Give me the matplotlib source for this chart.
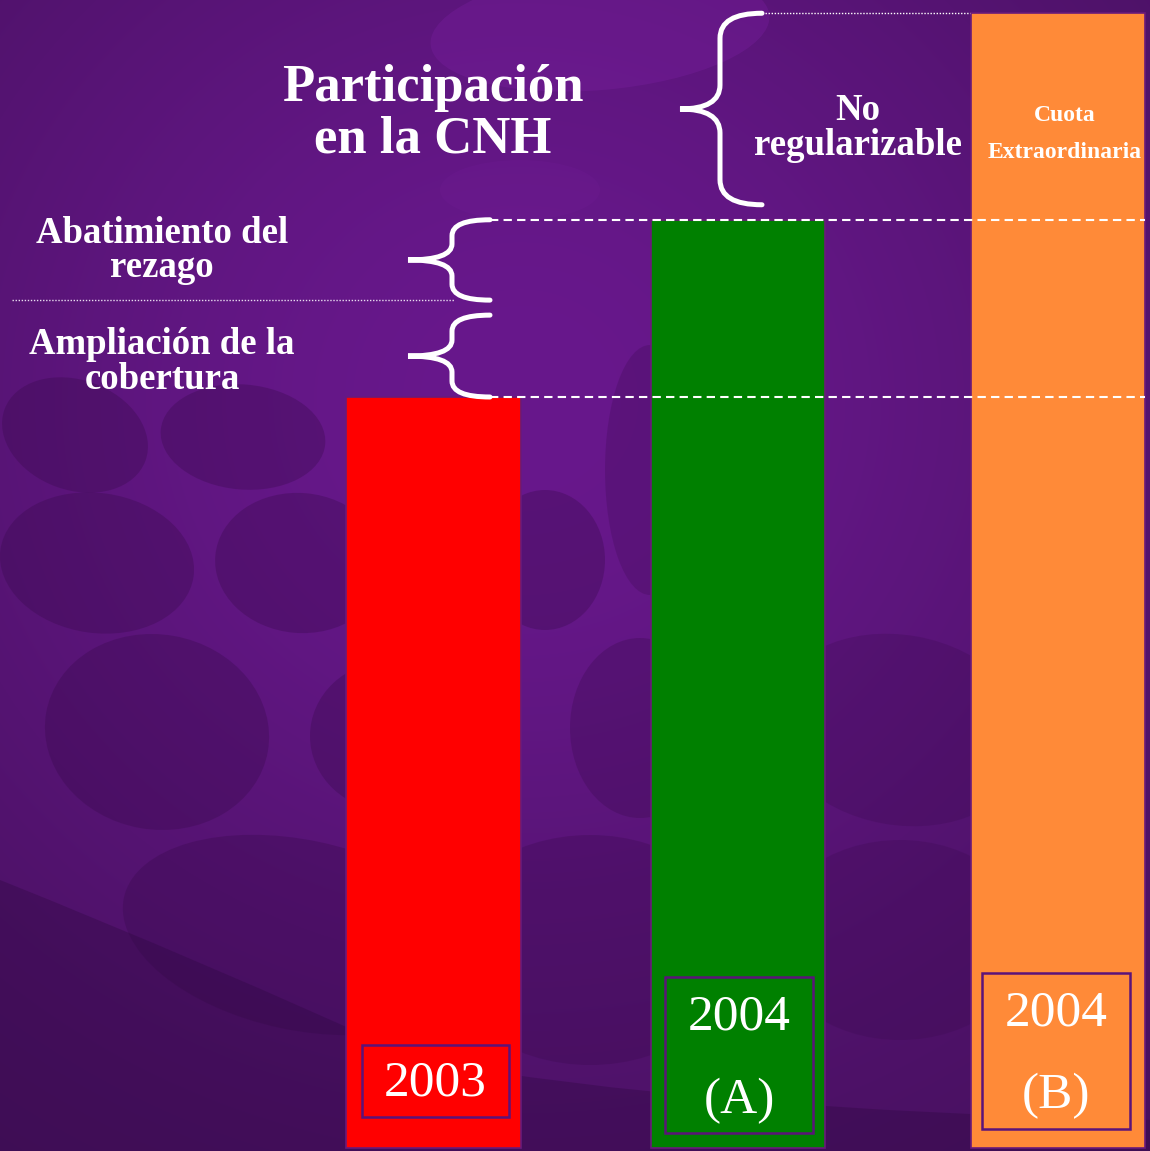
import numpy as np
import matplotlib.pyplot as plt
from matplotlib.patches import Ellipse, Rectangle, PathPatch
from matplotlib.path import Path

# ---- datos (alturas relativas, 2003 = 100) ----
labels = ["2003", "2004\n(A)", "2004\n(B)"]
participacion = [100.0, 123.6, 151.1]
corte_rezago = 112.9          # separa "Ampliación" de "Abatimiento"
bar_colors = ["#ff0000", "#008000", "#ff8a38"]

# ---- layout (pixeles) ----
W, H = 1150, 1151
BASE_PX = 1148          # pixel de la base de las barras
PX_PER_UNIT = 7.51
centers = [433.5, 738, 1057.5]
widths = [175, 174, 174]
SERIF = "Liberation Serif"


def py(p):
    # pixel vertical -> unidades de datos
    return (BASE_PX - p) / PX_PER_UNIT


fig = plt.figure(figsize=(W / 100, H / 100), dpi=100)

# ---------- fondo ----------
bg = fig.add_axes([0, 0, 1, 1])
bg.set_xlim(0, W)
bg.set_ylim(H, 0)
bg.axis("off")

yy, xx = np.mgrid[0:H, 0:W]
t = np.exp(-(((xx - 520) / 720.0) ** 2 + ((yy - 400) / 680.0) ** 2))
dark = np.array([0x42, 0x0f, 0x58]) / 255
light = np.array([0x68, 0x18, 0x8c]) / 255
img = dark + (light - dark) * t[..., None]
bg.imshow(img, extent=[0, W, H, 0], aspect="auto", zorder=0)

# manchas del fondo (x, y, ancho, alto, angulo, color, alpha)
blobs = [
    (600, 30, 340, 120, -5, "#7a1fa0", 0.35),
    (520, 190, 160, 60, 0, "#7a1fa0", 0.15),
    (75, 435, 150, 110, 20, "#3a0a4e", 0.35),
    (243, 437, 165, 105, 5, "#3a0a4e", 0.35),
    (97, 563, 195, 140, 8, "#3a0a4e", 0.35),
    (300, 563, 170, 140, 5, "#3a0a4e", 0.35),
    (545, 560, 120, 140, 0, "#3a0a4e", 0.35),
    (157, 732, 225, 195, 10, "#3a0a4e", 0.35),
    (390, 736, 160, 150, 0, "#3a0a4e", 0.35),
    (640, 728, 140, 180, 0, "#3a0a4e", 0.30),
    (300, 935, 360, 190, 12, "#3a0a4e", 0.35),
    (590, 950, 300, 230, 0, "#3a0a4e", 0.30),
    (900, 730, 260, 190, 10, "#3a0a4e", 0.25),
    (900, 940, 260, 200, 0, "#3a0a4e", 0.25),
    (650, 470, 90, 250, 0, "#3a0a4e", 0.25),
]
for x, y, w, h, a, c, al in blobs:
    bg.add_patch(Ellipse((x, y), w, h, angle=a, color=c, alpha=al, lw=0, zorder=1))

# banda oscura inferior izquierda
band = Path([(0, 880), (200, 960), (420, 1060), (700, 1110), (1150, 1120),
             (1150, 1151), (0, 1151), (0, 880)],
            [Path.MOVETO, Path.CURVE3, Path.CURVE3, Path.CURVE3, Path.CURVE3,
             Path.LINETO, Path.LINETO, Path.CLOSEPOLY])
bg.add_patch(PathPatch(band, fc="#2e0840", ec="none", alpha=0.35, zorder=1))

# ---------- grafica ----------
ax = fig.add_axes([0, 0, 1, 1])
ax.patch.set_alpha(0)
ax.set_xlim(0, W)
ax.set_ylim(py(H), py(0))
ax.axis("off")

ax.bar(centers, participacion, width=widths, color=bar_colors,
       edgecolor="#6a1a7a", linewidth=1.2, zorder=3)

# lineas de referencia
ax.hlines([participacion[1], participacion[0]], 490, 1145, colors="white",
          linestyles=(0, (4, 2.5)), linewidth=1.5, zorder=4)
ax.hlines(participacion[2], 765, 970, colors="white",
          linestyles=(0, (1, 1.2)), linewidth=1.0, zorder=4)
ax.hlines(corte_rezago, 12, 455, colors="#e8dcef",
          linestyles=(0, (1, 1.2)), linewidth=1.0, zorder=4)


def brace(x_tip, x_spine, x_point, y_top, y_bot, r_end, r_mid):
    ym = (y_top + y_bot) / 2
    verts = [(x_tip, y_top), (x_spine, y_top), (x_spine, y_top - r_end),
             (x_spine, ym + r_mid), (x_spine, ym), (x_point, ym),
             (x_spine, ym), (x_spine, ym - r_mid),
             (x_spine, y_bot + r_end), (x_spine, y_bot), (x_tip, y_bot)]
    codes = [Path.MOVETO, Path.CURVE3, Path.CURVE3, Path.LINETO,
             Path.CURVE3, Path.CURVE3, Path.CURVE3, Path.CURVE3,
             Path.LINETO, Path.CURVE3, Path.CURVE3]
    ax.add_patch(PathPatch(Path(verts, codes), fc="none", ec="white",
                           lw=3.6, capstyle="round", zorder=5))


gap = 15 / PX_PER_UNIT
brace(762, 720, 680, participacion[2], participacion[1] + gap,
      25 / PX_PER_UNIT, 24 / PX_PER_UNIT)
brace(490, 452, 408, participacion[1], corte_rezago,
      16 / PX_PER_UNIT, 16 / PX_PER_UNIT)
brace(490, 452, 408, corte_rezago - gap, participacion[0],
      16 / PX_PER_UNIT, 16 / PX_PER_UNIT)

# textos
bold = dict(family=SERIF, fontweight="bold", color="white", ha="center",
            va="baseline", zorder=6)
ax.text(433, py(101), "Participación", fontsize=38, **bold)
ax.text(433, py(152), "en la CNH", fontsize=38, **bold)
ax.text(162, py(243), "Abatimiento del", fontsize=26.5, **bold)
ax.text(162, py(277), "rezago", fontsize=26.5, **bold)
ax.text(162, py(354), "Ampliación de la", fontsize=26.5, **bold)
ax.text(162, py(389), "cobertura", fontsize=26.5, **bold)
ax.text(858, py(120), "No", fontsize=26.5, **bold)
ax.text(858, py(155), "regularizable", fontsize=26.5, **bold)
ax.text(1065, py(121), "Cuota", fontsize=17, **bold)
ax.text(1065, py(158), "Extraordinaria", fontsize=17, **bold)

# cajas con el año
boxes = [(362, 1045, 147, 72), (665, 977, 148, 156), (982, 973, 148, 156)]
baselines = [[1096], [1030, 1113], [1025, 1108]]
for (bx, by, bw, bh), lab, bls, cx in zip(boxes, labels, baselines, centers):
    ax.add_patch(Rectangle((bx, py(by + bh)), bw, bh / PX_PER_UNIT, fc="none",
                           ec="#5b137a", lw=1.8, zorder=5))
    for line, bl in zip(lab.split("\n"), bls):
        ax.text(bx + bw / 2, py(bl), line, family=SERIF, fontsize=37,
                color="white", ha="center", va="baseline", zorder=6)

fig.savefig("out.png", dpi=100)
